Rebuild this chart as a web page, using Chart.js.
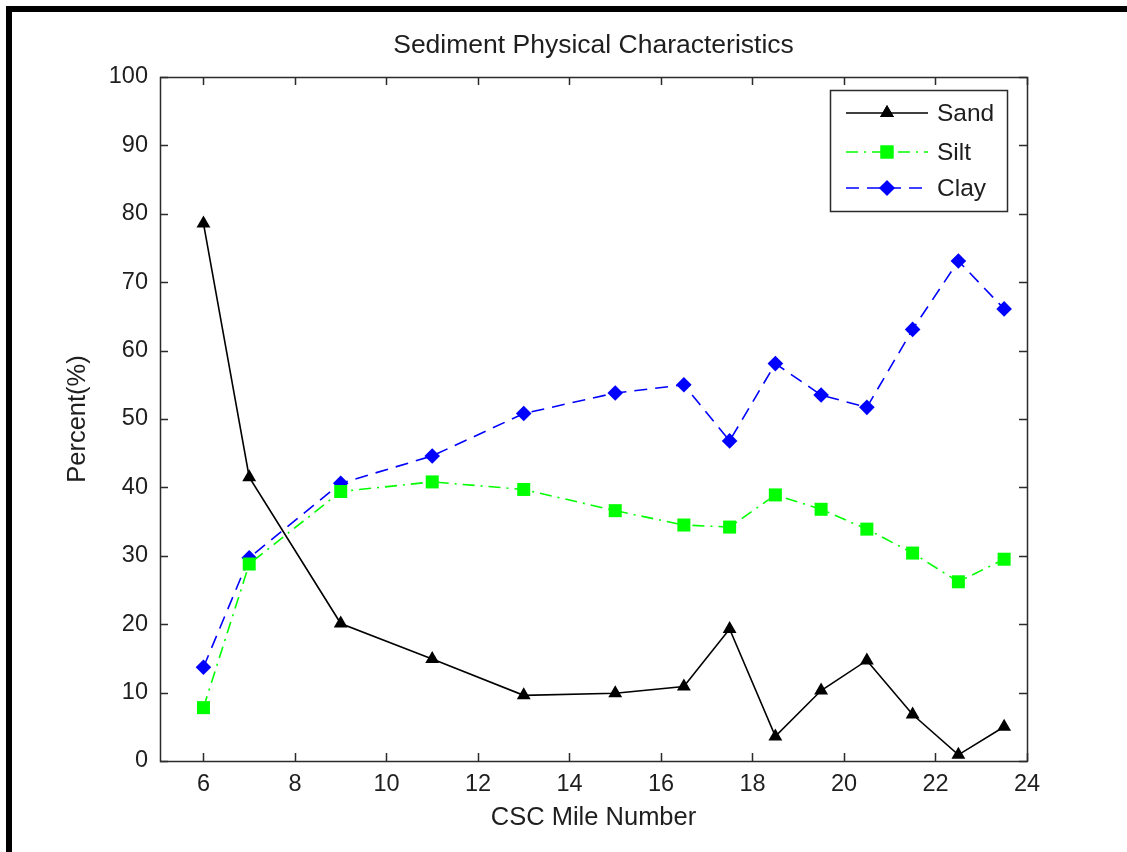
<!DOCTYPE html>
<html>
<head>
<meta charset="utf-8">
<title>Sediment Physical Characteristics</title>
<script src="https://cdn.jsdelivr.net/npm/chart.js@4.4.1/dist/chart.umd.min.js"></script>
<style>
  html, body { margin: 0; padding: 0; background: #fff; }
  #wrap { position: relative; width: 1127px; height: 852px; overflow: hidden; }
  #frame { position: absolute; left: 6px; top: 6px; right: 0; bottom: 0;
           border-top: 6px solid #000; border-left: 6px solid #000; pointer-events: none; }
  canvas { display: block; }
</style>
</head>
<body>
<div id="wrap">
  <canvas id="c" width="1127" height="852"></canvas>
  <div id="frame"></div>
</div>
<script>
// Sampling stations along the channel (CSC mile number)
const miles = [6, 7, 9, 11, 13, 15, 16.5, 17.5, 18.5, 19.5, 20.5, 21.5, 22.5, 23.5];
// Grain-size fractions, percent of sample
const sand = [78.6, 41.5, 20.1, 14.9, 9.6, 9.9, 10.9, 19.3, 3.6, 10.3, 14.7, 6.8, 0.9, 5.0];
const silt = [7.8, 28.8, 39.4, 40.8, 39.7, 36.6, 34.5, 34.2, 38.9, 36.8, 33.9, 30.4, 26.2, 29.5];
const clay = [13.7, 29.7, 40.6, 44.6, 50.8, 53.8, 55.0, 46.8, 58.1, 53.5, 51.7, 63.1, 73.1, 66.1];
// Axis tick values
const xTicks = [6, 8, 10, 12, 14, 16, 18, 20, 22, 24];
const yTicks = [0, 10, 20, 30, 40, 50, 60, 70, 80, 90, 100];

const FONT = '"Liberation Sans", Arial, Helvetica, sans-serif';
const INK = '#1e1e1e';
const AXIS = '#2b2b2b';

const pts = vals => miles.map((m, i) => ({ x: m, y: vals[i] }));

// Axis box with inward tick marks on all four sides
const boxTicks = {
  id: 'boxTicks',
  afterDatasetsDraw(chart) {
    const { ctx, chartArea: a, scales: { x, y } } = chart;
    const len = 8;
    ctx.save();
    ctx.strokeStyle = AXIS;
    ctx.lineWidth = 1.5;
    ctx.beginPath();
    x.ticks.forEach(t => {
      const px = Math.round(x.getPixelForValue(t.value)) + 0.5;
      ctx.moveTo(px, a.bottom); ctx.lineTo(px, a.bottom - len);
      ctx.moveTo(px, a.top); ctx.lineTo(px, a.top + len);
    });
    y.ticks.forEach(t => {
      const py = Math.round(y.getPixelForValue(t.value)) + 0.5;
      ctx.moveTo(a.left, py); ctx.lineTo(a.left + len, py);
      ctx.moveTo(a.right, py); ctx.lineTo(a.right - len, py);
    });
    ctx.stroke();
    ctx.strokeRect(Math.round(a.left) + 0.5, Math.round(a.top) + 0.5,
                   Math.round(a.right - a.left), Math.round(a.bottom - a.top));
    ctx.restore();
  }
};

// Boxed legend in the upper-right corner of the plot
const boxLegend = {
  id: 'boxLegend',
  afterDraw(chart) {
    const { ctx, chartArea: a } = chart;
    const w = 177, h = 121;
    const left = a.right - 20 - w, top = a.top + 13;
    ctx.save();
    ctx.fillStyle = '#fff';
    ctx.fillRect(left, top, w, h);
    ctx.strokeStyle = AXIS;
    ctx.lineWidth = 1.5;
    ctx.strokeRect(left + 0.5, top + 0.5, w, h);
    const rows = [top + 23, top + 62, top + 98];
    chart.data.datasets.forEach((ds, i) => {
      const yy = rows[i];
      const x0 = left + 16, x1 = left + 98, xm = (x0 + x1) / 2;
      ctx.strokeStyle = ds.borderColor;
      ctx.lineWidth = ds.borderWidth;
      ctx.setLineDash(ds.borderDash || []);
      ctx.beginPath();
      ctx.moveTo(x0, yy); ctx.lineTo(x1, yy);
      ctx.stroke();
      ctx.setLineDash([]);
      ctx.fillStyle = ds.pointBackgroundColor;
      Chart.helpers.drawPoint(ctx, {
        pointStyle: ds.pointStyle, radius: ds.pointRadius, rotation: 0, borderWidth: 0
      }, xm, yy);
      ctx.fill();
      ctx.fillStyle = INK;
      ctx.font = '24.5px ' + FONT;
      ctx.textBaseline = 'middle';
      ctx.textAlign = 'left';
      ctx.fillText(ds.label, left + 107, yy + 1);
    });
    ctx.restore();
  }
};

new Chart(document.getElementById('c'), {
  type: 'line',
  data: {
    datasets: [
      {
        label: 'Sand', data: pts(sand),
        borderColor: '#000000', borderWidth: 1.6,
        pointStyle: 'triangle', pointRadius: 8,
        pointBackgroundColor: '#000000', pointBorderColor: '#000000', pointBorderWidth: 0
      },
      {
        label: 'Silt', data: pts(silt),
        borderColor: '#00ff00', borderWidth: 1.6, borderDash: [12, 6, 2, 6],
        pointStyle: 'rect', pointRadius: 9.2,
        pointBackgroundColor: '#00ff00', pointBorderColor: '#00ff00', pointBorderWidth: 0
      },
      {
        label: 'Clay', data: pts(clay),
        borderColor: '#0000ff', borderWidth: 1.6, borderDash: [13, 8],
        pointStyle: 'rectRot', pointRadius: 7.8,
        pointBackgroundColor: '#0000ff', pointBorderColor: '#0000ff', pointBorderWidth: 0
      }
    ]
  },
  options: {
    responsive: false,
    animation: false,
    devicePixelRatio: 1,
    layout: { padding: { left: 0, top: 0, right: 100, bottom: 0 } },
    elements: { line: { tension: 0 } },
    plugins: {
      legend: { display: false },
      tooltip: { enabled: false },
      title: {
        display: true,
        text: 'Sediment Physical Characteristics',
        fullSize: false,
        color: INK,
        font: { family: FONT, size: 26.5, weight: 'normal' },
        padding: { top: 30, bottom: 15.2 }
      }
    },
    scales: {
      x: {
        type: 'linear', min: 5.05, max: 24,
        afterBuildTicks: s => { s.ticks = xTicks.map(v => ({ value: v })); },
        afterFit: s => { s.height = 91; },
        grid: { display: false, drawTicks: false },
        border: { display: false },
        ticks: { color: INK, padding: 9, font: { family: FONT, size: 23.5 } },
        title: {
          display: true, text: 'CSC Mile Number', color: INK,
          font: { family: FONT, size: 25.5 }, padding: { top: 18.7, bottom: 18.7 }
        }
      },
      y: {
        type: 'linear', min: 0, max: 100,
        afterBuildTicks: s => { s.ticks = yTicks.map(v => ({ value: v })); },
        afterFit: s => { s.width = 160; },
        grid: { display: false, drawTicks: false },
        border: { display: false },
        ticks: { color: INK, padding: 12, font: { family: FONT, size: 23.5 } },
        title: {
          display: true, text: 'Percent(%)', color: INK,
          font: { family: FONT, size: 25.5 }, padding: { top: 62.7, bottom: 0 }
        }
      }
    }
  },
  plugins: [boxTicks, boxLegend]
});
</script>
</body>
</html>
